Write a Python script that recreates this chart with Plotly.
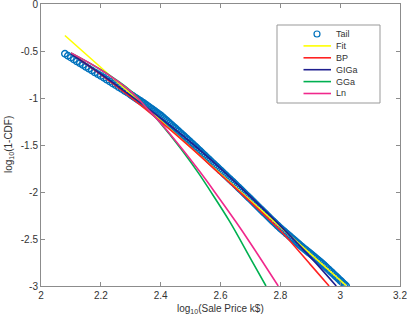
import plotly.graph_objects as go

# ---- data ----
tail_x = [2.08, 2.09, 2.10, 2.11, 2.12, 2.13, 2.14, 2.15, 2.16, 2.17, 2.18, 2.19, 2.20,
          2.21, 2.22, 2.23, 2.24, 2.25, 2.26, 2.27, 2.28, 2.29, 2.30,
          2.305, 2.310, 2.315, 2.320, 2.325, 2.330, 2.335, 2.340, 2.345, 2.350,
          2.355, 2.360, 2.365, 2.370, 2.375, 2.380, 2.385, 2.390, 2.395, 2.400,
          2.405, 2.410, 2.415, 2.420, 2.425, 2.430, 2.435, 2.440, 2.445, 2.450,
          2.455, 2.460, 2.465, 2.470, 2.475, 2.480, 2.485, 2.490, 2.495, 2.500,
          2.505, 2.510, 2.515, 2.520, 2.525, 2.530, 2.535, 2.540, 2.545, 2.550,
          2.555, 2.560, 2.565, 2.570, 2.575, 2.580, 2.585, 2.590, 2.595, 2.600,
          2.605, 2.610, 2.615, 2.620, 2.625, 2.630, 2.635, 2.640, 2.645, 2.650,
          2.655, 2.660, 2.665, 2.670, 2.675, 2.680, 2.685, 2.690, 2.695, 2.700,
          2.705, 2.710, 2.715, 2.720, 2.725, 2.730, 2.735, 2.740, 2.745, 2.750,
          2.755, 2.760, 2.765, 2.770, 2.775, 2.780, 2.785, 2.790, 2.795, 2.800,
          2.805, 2.810, 2.815, 2.820, 2.825, 2.830, 2.835, 2.840, 2.845, 2.850,
          2.855, 2.860, 2.865, 2.870, 2.875, 2.880, 2.885, 2.890, 2.895, 2.900,
          2.905, 2.910, 2.915, 2.920, 2.925, 2.930, 2.935, 2.940, 2.945, 2.950,
          2.955, 2.960, 2.965, 2.970, 2.975, 2.980, 2.985, 2.990, 2.995, 3.000,
          3.005, 3.010, 3.015, 3.020]
tail_y = [-0.530, -0.550, -0.570, -0.590, -0.610, -0.630, -0.649, -0.669, -0.688, -0.707, -0.727, -0.746, -0.765,
          -0.785, -0.805, -0.825, -0.845, -0.865, -0.885, -0.905, -0.925, -0.945, -0.965,
          -0.975, -0.986, -0.996, -1.007, -1.017, -1.028, -1.038, -1.049, -1.059, -1.070,
          -1.082, -1.093, -1.105, -1.116, -1.128, -1.139, -1.151, -1.162, -1.174, -1.185,
          -1.199, -1.213, -1.227, -1.241, -1.255, -1.269, -1.283, -1.297, -1.311, -1.325,
          -1.340, -1.354, -1.369, -1.383, -1.398, -1.412, -1.427, -1.441, -1.456, -1.470,
          -1.485, -1.500, -1.515, -1.530, -1.545, -1.560, -1.575, -1.590, -1.605, -1.620,
          -1.635, -1.650, -1.665, -1.680, -1.695, -1.710, -1.725, -1.740, -1.755, -1.770,
          -1.785, -1.800, -1.815, -1.830, -1.845, -1.860, -1.875, -1.890, -1.905, -1.920,
          -1.936, -1.951, -1.967, -1.982, -1.998, -2.013, -2.029, -2.044, -2.060, -2.075,
          -2.091, -2.107, -2.122, -2.138, -2.154, -2.170, -2.185, -2.201, -2.217, -2.232,
          -2.248, -2.264, -2.279, -2.295, -2.310, -2.325, -2.340, -2.355, -2.370, -2.385,
          -2.399, -2.412, -2.426, -2.440, -2.453, -2.467, -2.481, -2.495, -2.508, -2.522,
          -2.536, -2.549, -2.563, -2.577, -2.590, -2.603, -2.616, -2.629, -2.642, -2.655,
          -2.668, -2.681, -2.694, -2.707, -2.720, -2.734, -2.747, -2.760, -2.775, -2.790,
          -2.805, -2.820, -2.835, -2.850, -2.865, -2.880, -2.895, -2.910, -2.925, -2.940,
          -2.955, -2.970, -2.985, -3.000]

fit_x = [2.08, 3.02]
fit_y = [-0.335, -2.995]

bp_x = [2.107, 2.2, 2.3, 2.4, 2.5, 2.6, 2.7, 2.8, 2.9, 2.963]
bp_y = [-0.54, -0.751, -0.993, -1.251, -1.525, -1.814, -2.105, -2.41, -2.77, -3.0]

giga_x = [2.10, 2.2, 2.3, 2.4, 2.5, 2.6, 2.7, 2.8, 2.9, 2.987]
giga_y = [-0.53, -0.745, -0.975, -1.215, -1.47, -1.75, -2.05, -2.36, -2.69, -3.0]

gga_x = [2.10, 2.2, 2.3, 2.363, 2.4, 2.469, 2.53, 2.563, 2.63, 2.7, 2.752]
gga_y = [-0.52, -0.70, -0.925, -1.14, -1.27, -1.545, -1.815, -1.975, -2.31, -2.705, -3.0]

ln_x = [2.10, 2.2, 2.3, 2.363, 2.4, 2.474, 2.53, 2.574, 2.652, 2.7, 2.793]
ln_y = [-0.52, -0.70, -0.93, -1.14, -1.265, -1.55, -1.78, -1.97, -2.32, -2.545, -3.0]

series_names = ["Tail", "Fit", "BP", "GIGa", "GGa", "Ln"]
series_colors = ["#0072BD", "#FFFF00", "#FF2222", "#1F1F8F", "#00B050", "#F0288C"]

x_ticks = [2, 2.2, 2.4, 2.6, 2.8, 3, 3.2]
x_tick_text = ["2", "2.2", "2.4", "2.6", "2.8", "3", "3.2"]
y_ticks = [0, -0.5, -1, -1.5, -2, -2.5, -3]
y_tick_text = ["0", "-0.5", "-1", "-1.5", "-2", "-2.5", "-3"]

x_title = "log<sub>10</sub>(Sale Price k$)"
y_title = "log<sub>10</sub>(1-CDF)"

# ---- layout geometry (pixels) ----
W, H = 407, 322
ML, MR, MT, MB = 41, 7, 4, 36
PW, PH = W - ML - MR, H - MT - MB


def px_x(p):
    return (p - ML) / PW


def px_y(p):
    return 1 - (p - MT) / PH


FONT = "Liberation Sans, Arial, Helvetica, sans-serif"

# ---- figure ----
fig = go.Figure()
fig.add_trace(go.Scatter(x=tail_x, y=tail_y, mode="markers", name=series_names[0],
                         marker=dict(symbol="circle-open", size=6.5, color=series_colors[0],
                                     line=dict(width=1.4, color=series_colors[0]))))
line_w = 1.6
line_data = [(fit_x, fit_y, "linear"), (bp_x, bp_y, "spline"), (giga_x, giga_y, "spline"),
             (gga_x, gga_y, "spline"), (ln_x, ln_y, "spline")]
for i, (xs, ys, shp) in enumerate(line_data, start=1):
    fig.add_trace(go.Scatter(x=xs, y=ys, mode="lines", name=series_names[i],
                             line=dict(color=series_colors[i], width=line_w, shape=shp)))

axis_common = dict(showline=True, linecolor="#8c8c8c", linewidth=1, mirror="allticks",
                   ticks="inside", ticklen=4, tickcolor="#8c8c8c", tickwidth=1,
                   showgrid=False, zeroline=False, automargin=False,
                   ticklabeloverflow="allow",
                   tickfont=dict(family=FONT, size=10, color="#333333"))

# ---- legend box drawn in paper coordinates ----
shapes = [dict(type="rect", xref="paper", yref="paper",
               x0=px_x(277), x1=px_x(380), y0=px_y(103), y1=px_y(25),
               line=dict(color="#999999", width=1), fillcolor="white", layer="above")]
annotations = []
row_y = [34, 45.9, 57.8, 69.7, 81.6, 93.5]
for i, name in enumerate(series_names):
    yy = px_y(row_y[i])
    if i == 0:
        shapes.append(dict(type="circle", xref="paper", yref="paper",
                           xsizemode="pixel", ysizemode="pixel",
                           xanchor=px_x(317), yanchor=yy,
                           x0=-3, x1=3, y0=-3, y1=3,
                           line=dict(color=series_colors[0], width=1.2), layer="above"))
    else:
        shapes.append(dict(type="line", xref="paper", yref="paper",
                           x0=px_x(303.5), x1=px_x(331), y0=yy, y1=yy,
                           line=dict(color=series_colors[i], width=line_w), layer="above"))
    annotations.append(dict(text=name, xref="paper", yref="paper", x=px_x(334), y=yy,
                            xanchor="left", yanchor="middle", showarrow=False,
                            font=dict(family=FONT, size=9, color="#333333")))

# axis titles
annotations.append(dict(text=x_title, xref="paper", yref="paper",
                        x=0.5, y=px_y(309), xanchor="center", yanchor="middle",
                        showarrow=False, font=dict(family=FONT, size=10, color="#333333")))
annotations.append(dict(text=y_title, xref="paper", yref="paper",
                        x=px_x(9), y=0.5, xanchor="center", yanchor="middle",
                        textangle=-90, showarrow=False,
                        font=dict(family=FONT, size=10, color="#333333")))

fig.update_layout(
    width=W, height=H,
    margin=dict(l=ML, r=MR, t=MT, b=MB),
    paper_bgcolor="white", plot_bgcolor="white",
    font=dict(family=FONT, size=10, color="#333333"),
    xaxis=dict(range=[2, 3.2], tickvals=x_ticks, ticktext=x_tick_text, **axis_common),
    yaxis=dict(range=[-3, 0], tickvals=y_ticks, ticktext=y_tick_text, **axis_common),
    shapes=shapes,
    annotations=annotations,
    showlegend=False,
)

fig.write_html("out.html", config={"displayModeBar": False},
               post_script="document.body.style.margin='0';document.body.style.overflow='hidden';")
